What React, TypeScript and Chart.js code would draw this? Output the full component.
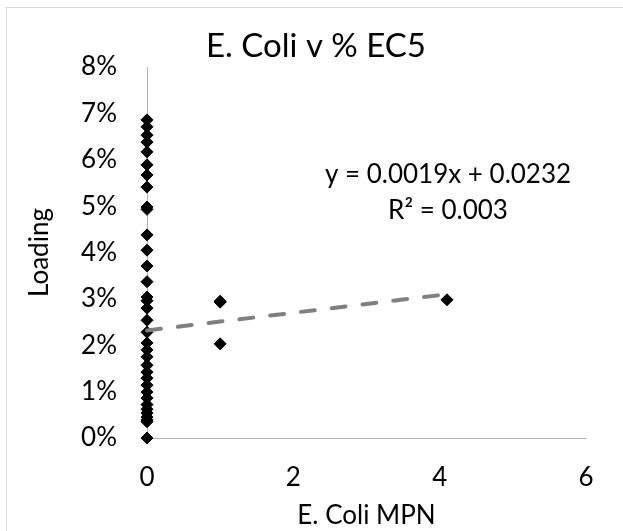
import React, { useEffect, useRef } from 'react';
import { Chart, registerables } from 'chart.js';

Chart.register(...registerables);

// ---- data (loading in %, MPN counts) ----
const zeroMpnLoadings: number[] = [
  6.86, 6.71, 6.53, 6.38, 6.17, 5.89, 5.67, 5.41, 4.98, 4.93, 4.38, 4.05, 3.71,
  3.37, 3.04, 2.96, 2.8, 2.54, 2.28, 2.05, 1.9, 1.75, 1.57, 1.42, 1.29, 1.14,
  0.99, 0.86, 0.72, 0.62, 0.54, 0.45, 0.39, 0.35, 0,
];
const otherMpn: number[] = [1, 1, 1, 4.1];
const otherLoadings: number[] = [2.95, 2.93, 2.03, 2.98];

const trendSlope = 0.0019;
const trendIntercept = 0.0232;
const trendRange: number[] = [0, 4.1];

const xTickValues: number[] = [0, 2, 4, 6];
const yTickValues: number[] = [0, 0.01, 0.02, 0.03, 0.04, 0.05, 0.06, 0.07, 0.08];

const chartTitle = 'E. Coli v % EC5';
const xAxisTitle = 'E. Coli MPN';
const yAxisTitle = 'Loading';
const equationLines: string[] = ['y = 0.0019x + 0.0232', 'R² = 0.003'];

const FONT = 'Lato, "Open Sans", sans-serif';

export default function App() {
  const ref = useRef<HTMLCanvasElement | null>(null);

  useEffect(() => {
    const canvas = ref.current;
    if (!canvas) return;

    const points = [
      ...zeroMpnLoadings.map((v) => ({ x: 0, y: v / 100 })),
      ...otherMpn.map((m, i) => ({ x: m, y: otherLoadings[i] / 100 })),
    ];
    const trend = trendRange.map((x) => ({ x, y: trendSlope * x + trendIntercept }));

    const decor = {
      id: 'decor',
      beforeDraw(chart: any) {
        const ctx = chart.ctx;
        ctx.save();
        ctx.fillStyle = '#ffffff';
        ctx.fillRect(0, 0, chart.width, chart.height);
        ctx.strokeStyle = '#d9d9d9';
        ctx.lineWidth = 1;
        ctx.strokeRect(6.5, 7.5, chart.width + 20, chart.height + 20);
        ctx.restore();
      },
      afterDraw(chart: any) {
        const ctx = chart.ctx;
        ctx.save();
        ctx.fillStyle = '#000000';
        ctx.textAlign = 'center';
        ctx.textBaseline = 'middle';
        ctx.font = `33px ${FONT}`;
        ctx.fillText(chartTitle, 316, 46);
        ctx.font = `26px ${FONT}`;
        ctx.fillText(equationLines[0], 448, 175);
        ctx.fillText(equationLines[1], 448, 211);
        ctx.restore();
      },
    };

    const chart = new Chart(canvas, {
      type: 'scatter',
      data: {
        datasets: [
          {
            type: 'line',
            label: 'Linear',
            data: trend,
            borderColor: '#808080',
            borderWidth: 4,
            borderDash: [14, 17],
            borderCapStyle: 'round',
            pointRadius: 0,
            fill: false,
            tension: 0,
            clip: false,
          },
          {
            label: 'Loading',
            data: points,
            pointStyle: 'rectRot',
            pointRadius: 6,
            pointBackgroundColor: '#000000',
            pointBorderColor: '#000000',
            pointBorderWidth: 1,
            showLine: false,
            clip: false,
          },
        ],
      } as any,
      options: {
        responsive: false,
        animation: false,
        layout: { padding: { top: 67, right: 37, left: 0, bottom: 0 } },
        plugins: {
          legend: { display: false },
          tooltip: { enabled: false },
          title: { display: false },
        },
        scales: {
          x: {
            type: 'linear',
            min: 0,
            max: 6,
            afterBuildTicks: (scale: any) => {
              scale.ticks = xTickValues.map((v) => ({ value: v }));
            },
            afterFit: (scale: any) => {
              scale.height = 93;
            },
            grid: { display: false, drawTicks: false },
            border: { display: true, color: '#b3b3b3', width: 1 },
            ticks: {
              color: '#000000',
              padding: 24,
              font: { family: FONT, size: 26 },
              callback: (v: any) => String(v),
            },
            title: {
              display: true,
              text: xAxisTitle,
              color: '#000000',
              font: { family: FONT, size: 26 },
              padding: { top: 0, bottom: 0 },
            },
          },
          y: {
            type: 'linear',
            min: 0,
            max: 0.08,
            afterBuildTicks: (scale: any) => {
              scale.ticks = yTickValues.map((v) => ({ value: v }));
            },
            afterFit: (scale: any) => {
              scale.width = 147;
            },
            grid: { display: false, drawTicks: false },
            border: { display: true, color: '#b3b3b3', width: 1 },
            ticks: {
              color: '#000000',
              padding: 30,
              font: { family: FONT, size: 26 },
              callback: (v: any) => `${Math.round(Number(v) * 100)}%`,
            },
            title: {
              display: true,
              text: yAxisTitle,
              color: '#000000',
              font: { family: FONT, size: 26 },
              padding: { top: 24, bottom: 0 },
            },
          },
        },
      } as any,
      plugins: [decor],
    });

    return () => chart.destroy();
  }, []);

  return (
    <div style={{ position: 'fixed', left: 0, top: 0, width: 623, height: 531, background: '#fff' }}>
      <canvas ref={ref} width={623} height={531} style={{ display: 'block' }} />
    </div>
  );
}
